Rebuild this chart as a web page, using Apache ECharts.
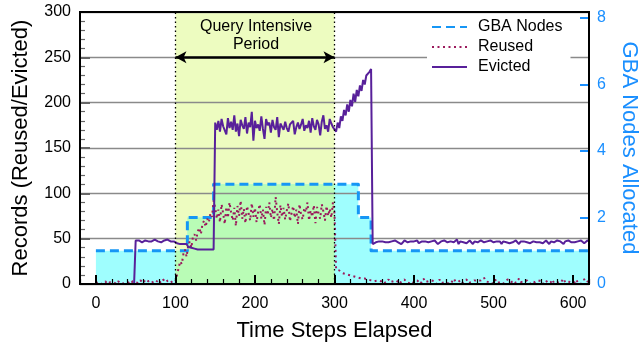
<!DOCTYPE html>
<html>
<head>
<meta charset="utf-8">
<script src="https://cdn.jsdelivr.net/npm/echarts@6/dist/echarts.min.js"></script>
<style>
html,body{margin:0;padding:0;background:#fff;}
#chart{width:641px;height:352px;}
</style>
</head>
<body>
<div id="chart"></div>
<script>
// ---- data (time steps sampled every 2 units, 0..620) ----
const xTickLabels = [0, 100, 200, 300, 400, 500, 600];
const yLeftTicks = [0, 50, 100, 150, 200, 250, 300];
const yRightTicks = [0, 2, 4, 6, 8];

// GBA nodes allocated (step function): change times and node counts
const gbaTimes = [0, 115, 148, 330, 346, 620];
const gbaNodes = [1, 2, 3, 2, 1, 1];

const queryStart = 100;
const queryEnd = 300;

const evicted = [
  0,0,0,0,0,0,0,0,0,0,            // 0-18
  0,0,0,0,0,0,0,0,0,0,            // 20-38
  0,0,0,0,0,48,47,48,47,46,       // 40-58
  47,48,47,47,46,47,48,49,48,47,  // 60-78
  47,46,47,48,47,49,48,47,46,47,  // 80-98
  46,45,45,44,45,44,43,44,41,39,  // 100-118
  40,38,39,37,38,39,38,37,38,39,  // 120-138
  38,37,38,36,38,178,170,180,168,182, // 140-158
  174,176,165,183,172,179,170,186,168,177, // 160-178
  163,181,175,171,184,166,178,173,190,158, // 180-198
  180,172,176,169,185,171,160,182,175,178, // 200-218
  167,181,173,170,184,162,177,175,170,179, // 220-238
  172,168,176,174,180,165,173,178,171,176, // 240-258
  182,169,175,172,180,167,183,174,170,181, // 260-278
  176,164,179,186,171,175,168,182,177,173, // 280-298
  175,168,178,172,185,180,192,186,198,190, // 300-318
  203,196,210,201,214,207,219,213,225,220, // 320-338
  230,228,234,237,44,43,46,45,47,46,       // 340-358
  47,45,46,48,46,44,47,46,48,47,  // 360-378
  46,47,44,46,48,47,46,45,47,46,  // 380-398
  47,46,48,45,44,47,46,47,49,46,  // 400-418
  45,47,46,48,47,44,46,47,46,48,  // 420-438
  47,46,45,47,48,46,47,49,44,47,  // 440-458
  48,46,47,45,46,48,47,44,47,45,  // 460-478
  46,47,48,47,46,44,47,46,48,47,  // 480-498
  46,48,47,45,47,44,47,48,46,47,  // 500-518
  45,47,46,47,48,46,44,47,46,47,  // 520-538
  48,46,47,45,44,47,48,46,47,46,  // 540-558
  47,45,46,48,47,44,47,45,46,47,  // 560-578
  48,46,47,45,44,47,46,48,47,46,  // 580-598
  47,46,44,47,46,48,47,45,47,48,  // 600-618
  47                              // 620
];

const reused = [
  1,0,2,1,0,1,3,0,1,2,            // 0-18
  0,2,1,0,3,1,0,2,1,0,            // 20-38
  2,1,0,3,1,2,0,1,4,2,            // 40-58
  1,5,7,3,2,4,1,3,2,5,            // 60-78
  3,1,4,2,6,3,2,4,1,3,            // 80-98
  3,10,18,25,22,33,38,30,42,47,   // 100-118
  40,52,55,48,58,62,55,66,70,63,  // 120-138
  72,68,78,74,92,84,72,82,68,88,  // 140-158
  78,66,85,73,90,79,70,84,64,86,  // 160-178
  75,92,72,83,67,86,78,70,89,74,  // 180-198
  84,68,80,88,72,82,65,85,76,90,  // 200-218
  73,83,70,96,79,66,87,74,84,71,  // 220-238
  81,89,69,78,86,73,82,66,88,76,  // 240-258
  71,84,79,90,70,81,74,87,67,85,  // 260-278
  78,72,88,80,70,86,75,83,73,90,  // 280-298
  78,16,14,15,13,12,14,11,12,10,  // 300-318
  11,9,10,8,9,7,8,6,5,6,          // 320-338
  4,5,3,4,2,3,1,4,2,3,            // 340-358
  2,4,1,3,5,2,0,3,1,4,            // 360-378
  2,0,3,1,5,2,4,1,3,0,            // 380-398
  3,1,4,2,0,3,6,2,1,3,            // 400-418
  1,4,2,3,0,2,5,1,3,2,            // 420-438
  4,1,3,0,2,6,3,1,4,2,            // 440-458
  0,3,2,5,1,3,2,0,4,2,            // 460-478
  3,1,4,2,7,3,1,2,4,0,            // 480-498
  2,5,1,3,2,4,0,3,1,5,            // 500-518
  3,2,0,4,1,3,6,2,1,3,            // 520-538
  1,4,2,0,3,5,2,1,4,2,            // 540-558
  3,0,2,4,1,3,2,5,1,3,            // 560-578
  2,4,1,3,6,2,0,3,4,1,            // 580-598
  3,2,5,1,3,0,4,2,6,3,            // 600-618
  2                               // 620
];

// ---- build library data ----
const steps = [];
for (let t = 0; t <= 620; t += 2) steps.push(t);
const evictedData = steps.map((t, i) => [t, evicted[i]]);
const reusedData = steps.map((t, i) => [t, reused[i]]);
const gbaData = gbaTimes.map((t, i) => [t, gbaNodes[i]]);
function gbaAt(t) {
  let v = gbaNodes[0];
  for (let i = 0; i < gbaTimes.length; i++) if (gbaTimes[i] <= t) v = gbaNodes[i];
  return v;
}
const gbaQueryData = [[queryStart, gbaAt(queryStart)]]
  .concat(gbaData.filter(p => p[0] > queryStart && p[0] < queryEnd))
  .concat([[queryEnd, gbaAt(queryEnd)]]);

const minorX = [];
for (let t = -20; t <= 620; t += 20) if (t % 100 !== 0) minorX.push(t);

const FONT = 'Liberation Sans, Arial, Helvetica, sans-serif';
const BLUE = '#1a8fff';

const chart = echarts.init(document.getElementById('chart'), null, {renderer: 'canvas'});
chart.setOption({
  animation: false,
  backgroundColor: '#fff',
  textStyle: {fontFamily: FONT},
  grid: {left: 80, right: 52, top: 12, bottom: 68, outerBoundsMode: 'none', containLabel: false,
         show: true, borderColor: '#000', borderWidth: 2, backgroundColor: 'transparent', z: 8},
  legend: {
    data: ['GBA Nodes', 'Reused', 'Evicted'],
    orient: 'vertical', left: 427, top: 14,
    padding: [5, 8, 5, 4],
    itemWidth: 35, itemHeight: 14, itemGap: 4,
    backgroundColor: '#fff', z: 10,
    itemStyle: {color: 'transparent', borderColor: 'transparent', borderWidth: 0, opacity: 0},
    textStyle: {fontSize: 16, color: '#000', fontFamily: FONT, padding: [0, 0, 0, 6]}
  },
  graphic: [{
    type: 'text', x: 256, y: 36, z: 20,
    style: {text: 'Query Intensive\nPeriod', align: 'center', verticalAlign: 'middle', fontSize: 16, lineHeight: 18, fill: '#000', fontFamily: FONT}
  }],
  xAxis: [{
    type: 'value', min: -20, max: 620, position: 'bottom', z: 7,
    name: 'Time Steps Elapsed', nameLocation: 'middle', nameGap: 36,
    nameTextStyle: {fontSize: 22, color: '#000', fontFamily: FONT},
    axisLine: {show: true, onZero: false, lineStyle: {color: '#000', width: 2}},
    axisTick: {show: true, inside: true, length: 9, lineStyle: {color: '#000', width: 2}, customValues: xTickLabels},
    axisLabel: {show: true, fontSize: 16, color: '#000', margin: 12, customValues: xTickLabels, fontFamily: FONT},
    splitLine: {show: false}
  }, {
    type: 'value', min: -20, max: 620, position: 'bottom', z: 7,
    axisLine: {show: false, onZero: false},
    axisTick: {show: true, inside: true, length: 5, lineStyle: {color: '#000', width: 1.2}, customValues: minorX},
    axisLabel: {show: false},
    splitLine: {show: false}
  }],
  yAxis: [{
    type: 'value', min: 0, max: 300, interval: 50, position: 'left', z: 3,
    name: 'Records (Reused/Evicted)', nameLocation: 'middle', nameGap: 48,
    nameTextStyle: {fontSize: 22, color: '#000', fontFamily: FONT},
    axisLine: {show: true, onZero: false, lineStyle: {color: '#000', width: 2}},
    axisTick: {show: true, inside: true, length: 10, lineStyle: {color: '#666', width: 2}},
    minorTick: {show: true, splitNumber: 5, length: 5, lineStyle: {color: '#666', width: 1.2}},
    axisLabel: {fontSize: 16, color: '#000', margin: 9, fontFamily: FONT},
    splitLine: {show: true, lineStyle: {color: '#8a8a8a', width: 1.3}}
  }, {
    type: 'value', min: 0, max: 8.18, position: 'right', z: 3,
    name: 'GBA Nodes Allocated', nameLocation: 'middle', nameGap: 29, nameRotate: -90,
    nameTextStyle: {fontSize: 22, color: BLUE, fontFamily: FONT},
    axisLine: {show: false, onZero: false},
    axisTick: {show: true, inside: true, length: 9, lineStyle: {color: BLUE, width: 2}, customValues: yRightTicks},
    axisLabel: {fontSize: 16, color: BLUE, margin: 8, customValues: yRightTicks, fontFamily: FONT},
    splitLine: {show: false}
  }],
  series: [
    {
      name: 'bg', type: 'line', data: [], xAxisIndex: 0, yAxisIndex: 0, z: 1, silent: true,
      markArea: {silent: true, z: 1, itemStyle: {color: '#edfcc0'}, data: [[{xAxis: queryStart}, {xAxis: queryEnd}]]}
    },
    {
      name: 'gbaFill', type: 'line', step: 'end', data: gbaData, xAxisIndex: 0, yAxisIndex: 1, z: 2,
      symbol: 'none', lineStyle: {width: 0, opacity: 0}, areaStyle: {color: '#9ffefe', opacity: 1}, silent: true
    },
    {
      name: 'gbaFillQ', type: 'line', step: 'end', data: gbaQueryData, xAxisIndex: 0, yAxisIndex: 1, z: 2,
      symbol: 'none', lineStyle: {width: 0, opacity: 0}, areaStyle: {color: '#b9fcb6', opacity: 1}, silent: true
    },
    {
      name: 'GBA Nodes', type: 'line', step: 'end', data: gbaData, xAxisIndex: 0, yAxisIndex: 1, z: 4,
      symbol: 'none', showSymbol: false, color: '#1696f5',
      lineStyle: {color: '#1696f5', width: 3, type: [9, 5], join: 'round'}
    },
    {
      name: 'Reused', type: 'line', data: reusedData, xAxisIndex: 0, yAxisIndex: 0, z: 5,
      symbol: 'none', showSymbol: false, color: '#9b1a5c',
      lineStyle: {color: '#9b1a5c', width: 2, type: [2, 3.5]}
    },
    {
      name: 'Evicted', type: 'line', data: evictedData, xAxisIndex: 0, yAxisIndex: 0, z: 6,
      symbol: 'none', showSymbol: false, color: '#58209a',
      lineStyle: {color: '#58209a', width: 2}
    },
    {
      name: 'marks', type: 'line', data: [], xAxisIndex: 0, yAxisIndex: 0, z: 7, silent: true,
      markLine: {
        silent: true, z: 7, animation: false,
        label: {show: false},
        data: [
          [{coord: [queryStart, 250], symbol: 'arrow', symbolSize: [9, 11], lineStyle: {color: '#000', width: 2.5, type: 'solid'}},
           {coord: [queryEnd, 250], symbol: 'arrow', symbolSize: [9, 11]}],
          {xAxis: queryStart, symbol: 'none', lineStyle: {color: '#000', width: 1.3, type: [1.5, 3]}},
          {xAxis: queryEnd, symbol: 'none', lineStyle: {color: '#000', width: 1.3, type: [1.5, 3]}}
        ],
        symbol: ['none', 'none']
      }
    }
  ]
});
</script>
</body>
</html>
